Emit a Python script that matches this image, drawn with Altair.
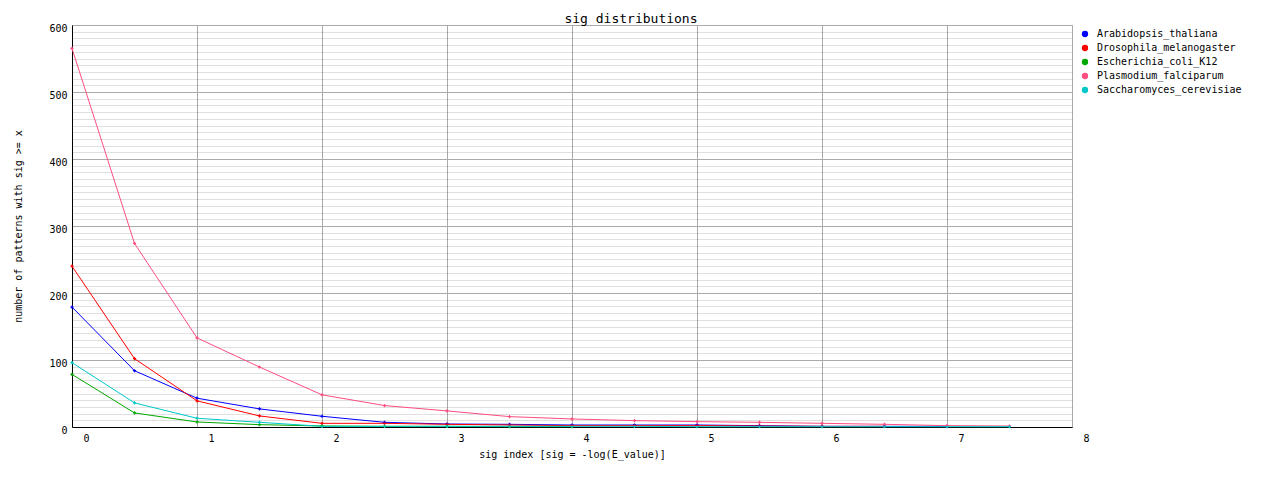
import altair as alt
import pandas as pd

sig_index = [0, 0.5, 1, 1.5, 2, 2.5, 3, 3.5, 4, 4.5, 5, 5.5, 6, 6.5, 7, 7.5]

species = [
    "Arabidopsis_thaliana",
    "Drosophila_melanogaster",
    "Escherichia_coli_K12",
    "Plasmodium_falciparum",
    "Saccharomyces_cerevisiae",
]
colors = ["#0000ff", "#ff0000", "#00a800", "#ff4d80", "#00c8c8"]

arabidopsis = [179, 84, 43, 27, 16, 7, 4.5, 4, 3, 3, 3, 2, 1, 1, 1]
drosophila = [240, 102, 39, 16.5, 5.5, 5.5, 4, 3, 2, 2, 2, 1.5, 1, 1]
ecoli = [78.5, 21, 7.5, 3.5, 1.5, 1, 1, 0.5, 0.5]
plasmodium = [565, 274, 133, 89.5, 48, 32, 24, 15.5, 12, 9.5, 8, 7, 5.5, 4, 2, 1.5]
saccharomyces = [96, 36, 13, 7, 1, 1, 1, 1, 1, 1, 0.5, 0.5, 0.5, 0.5, 0.5, 0.5]

series = [arabidopsis, drosophila, ecoli, plasmodium, saccharomyces]
rows = []
for name, vals in zip(species, series):
    for x, v in zip(sig_index, vals):
        rows.append({"sig": x, "count": v, "species": name})
df = pd.DataFrame(rows)

FONT = "DejaVu Sans Mono"
x_ticks = [i / 2 for i in range(17)]
y_ticks = list(range(0, 601, 10))

x_major = "datum.value % 1 === 0"
y_major = "datum.value % 100 === 0"

x_axis = alt.Axis(
    values=x_ticks,
    labelExpr="datum.value % 1 === 0 ? datum.label : ''",
    format="d",
    ticks=False,
    tickSize=0,
    labelOffset=14,
    labelPadding=6,
    labelFont=FONT,
    labelFontSize=10,
    labelColor="#000000",
    labelFlush=False,
    domainColor="#000000",
    grid=True,
    gridColor={"condition": {"test": x_major, "value": "#aaaaaa"}, "value": "#000000"},
    gridOpacity={"condition": {"test": x_major, "value": 1}, "value": 0.12},
    title="sig index [sig = -log(E_value)]",
    titleFont=FONT,
    titleFontSize=10,
    titleFontWeight="normal",
    titleX=500,
    titleY=27,
    titleAlign="center",
    titleBaseline="middle",
)

y_axis = alt.Axis(
    values=y_ticks,
    labelExpr="datum.value % 100 === 0 ? datum.label : ''",
    ticks=False,
    tickSize=0,
    labelPadding=5,
    labelOffset=3,
    labelFont=FONT,
    labelFontSize=10,
    labelColor="#000000",
    labelBaseline="middle",
    domainColor="#000000",
    grid=True,
    gridColor={"condition": {"test": y_major, "value": "#aaaaaa"}, "value": "#000000"},
    gridOpacity={"condition": {"test": y_major, "value": 1}, "value": 0.12},
    title="number of patterns with sig >= x",
    titleFont=FONT,
    titleFontSize=10,
    titleFontWeight="normal",
    titleAngle=270,
    titleX=-54,
    titleY=201,
    titleAlign="center",
    titleBaseline="middle",
)

color = alt.Color(
    "species:N",
    scale=alt.Scale(domain=species, range=colors),
    legend=alt.Legend(
        orient="none",
        legendX=1008,
        legendY=4,
        title=None,
        symbolType="circle",
        symbolSize=40,
        symbolStrokeWidth=0,
        labelFont=FONT,
        labelFontSize=10,
        labelColor="#000000",
        labelOffset=7,
        rowPadding=4,
        padding=0,
    ),
)

base = alt.Chart(df).encode(
    x=alt.X("sig:Q", scale=alt.Scale(domain=[0, 8], nice=False, zero=False), axis=x_axis),
    y=alt.Y("count:Q", scale=alt.Scale(domain=[0, 600], nice=False), axis=y_axis),
    color=color,
    detail="species:N",
)

points = base.mark_point(shape="cross", filled=True, size=10, opacity=1)
lines = base.mark_line(strokeWidth=1)

chart = (
    alt.layer(points, lines)
    .properties(
        width=1000,
        height=402,
        title=alt.TitleParams(
            "sig distributions",
            font=FONT,
            fontSize=13,
            fontWeight="normal",
            color="#000000",
            anchor="middle",
            offset=2,
            dx=59,
            dy=5,
        ),
        autosize=alt.AutoSizeParams(type="none"),
        padding={"left": 64, "top": 17, "right": 190, "bottom": 43},
    )
    .configure_view(stroke=None)
    .configure(background="#ffffff")
)

chart.save("out.html", embed_options={"renderer": "svg", "actions": False})
